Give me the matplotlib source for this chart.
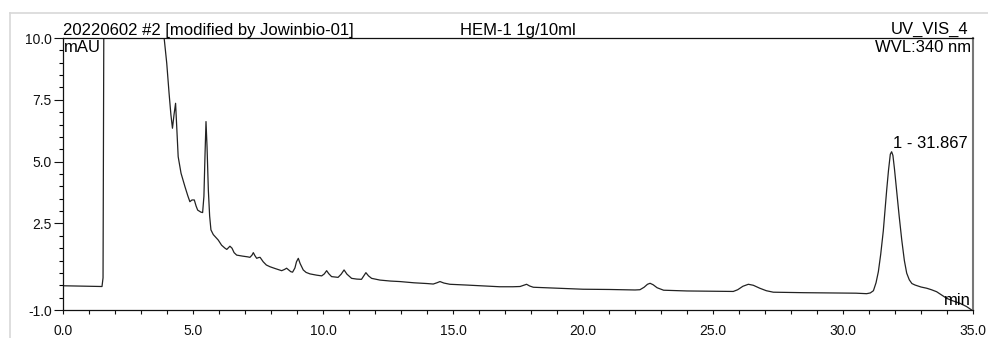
import numpy as np
import matplotlib
matplotlib.use("Agg")
import matplotlib.pyplot as plt
from matplotlib.ticker import FixedLocator, FormatStrFormatter
from matplotlib.lines import Line2D

plt.rcParams['font.family'] = ['Liberation Sans', 'DejaVu Sans']
plt.rcParams['axes.unicode_minus'] = False

# Retention time (min) and signal (mAU)
time_min = [0.0, 0.5, 1.0, 1.50, 1.54, 1.57, 1.62, 3.80, 3.87, 3.99, 4.08, 4.15, 4.21,
            4.27, 4.33, 4.38, 4.43, 4.54, 4.69, 4.80, 4.88, 4.96, 5.05, 5.12, 5.18,
            5.30, 5.37, 5.42, 5.46, 5.50, 5.54, 5.59, 5.64, 5.69, 5.78, 5.85, 5.97,
            6.10, 6.23, 6.30, 6.42, 6.50, 6.58, 6.68, 6.90, 7.10, 7.19, 7.27, 7.32,
            7.38, 7.45, 7.52, 7.58, 7.70, 7.82, 7.96, 8.15, 8.41, 8.52, 8.60, 8.68,
            8.76, 8.83, 8.92, 8.98, 9.05, 9.12, 9.24, 9.35, 9.50, 9.75, 9.95, 10.05,
            10.14, 10.22, 10.33, 10.58, 10.70, 10.81, 10.92, 11.10, 11.30, 11.48,
            11.57, 11.65, 11.75, 11.87, 12.19, 12.60, 12.96, 13.50, 14.00, 14.24,
            14.38, 14.50, 14.65, 14.88, 15.50, 16.20, 16.80, 17.30, 17.58, 17.72,
            17.83, 17.95, 18.09, 19.00, 20.00, 21.00, 22.00, 22.19, 22.35, 22.48,
            22.58, 22.70, 22.85, 23.10, 24.00, 25.00, 25.78, 25.95, 26.15, 26.36,
            26.55, 26.80, 27.05, 27.32, 28.50, 29.50, 30.50, 30.91, 31.05, 31.17,
            31.27, 31.36, 31.45, 31.55, 31.62, 31.68, 31.75, 31.82, 31.87, 31.92,
            31.98, 32.06, 32.16, 32.26, 32.36, 32.45, 32.55, 32.65, 32.77, 33.00,
            33.22, 33.40, 33.60, 33.80, 33.99, 34.25, 34.50, 34.75, 34.95]
signal_mau = [-0.02, -0.03, -0.04, -0.05, 0.3, 10.5, 12.0, 12.0, 10.2, 8.98, 7.76, 6.9, 6.35,
              6.9, 7.36, 6.3, 5.2, 4.53, 3.99, 3.62, 3.38, 3.45, 3.45, 3.2, 3.04,
              2.96, 2.94, 3.6, 5.2, 6.62, 5.6, 3.85, 2.8, 2.24, 2.05, 1.97, 1.83,
              1.62, 1.5, 1.45, 1.58, 1.50, 1.32, 1.22, 1.18, 1.15, 1.13, 1.22, 1.32,
              1.20, 1.09, 1.12, 1.13, 0.95, 0.82, 0.75, 0.68, 0.59, 0.64, 0.69, 0.62,
              0.55, 0.53, 0.70, 0.95, 1.09, 0.88, 0.62, 0.52, 0.46, 0.41, 0.38, 0.46,
              0.59, 0.47, 0.35, 0.32, 0.45, 0.62, 0.45, 0.28, 0.25, 0.24,
              0.38, 0.51, 0.38, 0.28, 0.21, 0.17, 0.15, 0.10, 0.07, 0.05,
              0.10, 0.15, 0.09, 0.04, 0.01, -0.03, -0.06, -0.06, -0.05, 0.00,
              0.04, -0.03, -0.08, -0.12, -0.16, -0.17, -0.19, -0.18, -0.08, 0.04,
              0.08, 0.02, -0.10, -0.20, -0.23, -0.24, -0.25, -0.18, -0.04, 0.04,
              0.00, -0.12, -0.22, -0.28, -0.30, -0.31, -0.32, -0.34, -0.31, -0.22,
              0.10, 0.55, 1.25, 2.2, 3.1, 3.85, 4.65, 5.3, 5.40, 5.25,
              4.7, 3.85, 2.8, 1.83, 1.0, 0.49, 0.22, 0.07, 0.01, -0.07,
              -0.12, -0.18, -0.26, -0.40, -0.53, -0.64, -0.73, -0.86, -1.0]

peak_time = 31.87
peak_value = 5.40
peak_label = "1 - 31.867"

x_major = [0.0, 5.0, 10.0, 15.0, 20.0, 25.0, 30.0, 35.0]
y_major = [-1.0, 2.5, 5.0, 7.5, 10.0]

W, H = 988, 338
fig = plt.figure(figsize=(W / 100, H / 100), dpi=100)
ax = fig.add_axes([63 / W, 1 - 310 / H, (973 - 63) / W, (310 - 38) / H])

ax.plot(time_min, signal_mau, color='#222222', lw=0.9)
ax.set_xlim(0, 35)
ax.set_ylim(-1.0, 10.0)

ax.xaxis.set_major_locator(FixedLocator(x_major))
ax.xaxis.set_minor_locator(FixedLocator(np.arange(0, 35.01, 1.0)))
ax.yaxis.set_major_locator(FixedLocator(y_major))
ax.yaxis.set_minor_locator(FixedLocator(np.arange(-1.0, 10.01, 0.5)))
ax.xaxis.set_major_formatter(FormatStrFormatter('%.1f'))
ax.yaxis.set_major_formatter(FormatStrFormatter('%.1f'))

ax.tick_params(axis='x', which='both', direction='out', length=3.2, width=0.8,
               pad=7, labelsize=10, colors='#111111')
ax.tick_params(axis='y', which='major', direction='out', length=6.5, width=0.8,
               pad=1.5, labelsize=10, colors='#111111')
ax.tick_params(axis='y', which='minor', direction='out', length=3.2, width=0.8)

for s in ['left', 'bottom', 'top']:
    ax.spines[s].set_color('#111111')
    ax.spines[s].set_linewidth(0.9)
ax.spines['right'].set_color('#777777')
ax.spines['right'].set_linewidth(1.5)

fs = 12
ax.text(0.0, 1.0, "20220602 #2 [modified by Jowinbio-01]", transform=ax.transAxes,
        ha='left', va='bottom', fontsize=fs)
ax.text(0.5, 1.0, "HEM-1 1g/10ml", transform=ax.transAxes,
        ha='center', va='bottom', fontsize=fs)
ax.annotate("UV_VIS_4", xy=(1.0, 1.0), xycoords='axes fraction',
            xytext=(-5, 1), textcoords='offset pixels', ha='right', va='bottom', fontsize=fs)
ax.annotate("WVL:340 nm", xy=(1.0, 1.0), xycoords='axes fraction',
            xytext=(-2, -2), textcoords='offset pixels', ha='right', va='top', fontsize=fs)
ax.annotate("mAU", xy=(0.0, 1.0), xycoords='axes fraction',
            xytext=(1, -2), textcoords='offset pixels', ha='left', va='top', fontsize=fs)
ax.annotate("min", xy=(1.0, 0.0), xycoords='axes fraction',
            xytext=(-2, 2), textcoords='offset pixels', ha='right', va='bottom', fontsize=fs)
ax.annotate(peak_label, xy=(peak_time, peak_value), xycoords='data',
            xytext=(1, 4), textcoords='offset pixels', ha='left', va='baseline', fontsize=fs)

# light outer frame
fig.add_artist(Line2D([10 / W, 1.0], [1 - 13 / H, 1 - 13 / H], transform=fig.transFigure,
                      color='#d8d8d8', lw=1.2))
fig.add_artist(Line2D([10 / W, 10 / W], [0.0, 1 - 13 / H], transform=fig.transFigure,
                      color='#d8d8d8', lw=1.2))

fig.savefig("out.png", dpi=100)
